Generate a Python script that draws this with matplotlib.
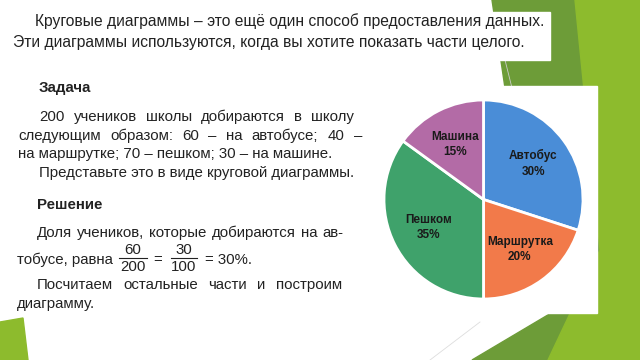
import matplotlib
matplotlib.use("Agg")
import matplotlib.pyplot as plt
from matplotlib.patches import Polygon, Rectangle
import numpy as np

# slide text
title_lines = [
    "Круговые диаграммы – это ещё один способ предоставления данных.",
    "Эти диаграммы используются, когда вы хотите показать части целого.",
]
task_head = "Задача"
task_lines = [
    "200 учеников школы добираются в школу",
    "следующим образом: 60 – на автобусе; 40 –",
    "на маршрутке; 70 – пешком; 30 – на машине.",
    "Представьте это в виде круговой диаграммы.",
]
sol_head = "Решение"
sol_line1 = "Доля учеников, которые добираются на ав-"
sol_line2 = "тобусе, равна"
frac1 = ("60", "200")
frac2 = ("30", "100")
sol_result = "= 30%."
sol_lines_end = ["Посчитаем остальные части и построим", "диаграмму."]

# pie data
categories = ["Автобус", "Маршрутка", "Пешком", "Машина"]
students = [60, 40, 70, 30]
colors = ["#4a8dd7", "#f27a4a", "#3fa26b", "#b36ba6"]

body_font = ["Liberation Sans", "DejaVu Sans"]
txt_color = "#222222"

fig = plt.figure(figsize=(6.4, 3.6), dpi=100)
bg = fig.add_axes([0, 0, 1, 1])
bg.set_xlim(0, 640)
bg.set_ylim(360, 0)
bg.axis("off")

# green decoration of the slide
bg.add_patch(Polygon([(492, 0), (640, 0), (640, 360), (472, 360), (590, 290), (505, 88)],
                     closed=True, color="#6d9c38", zorder=0))
bg.add_patch(Polygon([(575, 0), (640, 0), (640, 360), (548, 360), (600, 250)],
                     closed=True, color="#8dbb2d", zorder=0))
bg.add_patch(Polygon([(0, 322), (23, 318), (28, 360), (0, 360)],
                     closed=True, color="#8dbb2d", zorder=0))
bg.plot([505, 512], [60, 88], color="#cccccc", lw=0.6, zorder=0)
bg.plot([430, 480], [360, 322], color="#dddddd", lw=0.6, zorder=0)
bg.add_patch(Rectangle((0, 12), 550, 48, color="white", zorder=1))
bg.add_patch(Rectangle((378, 86), 219, 227, color="white", zorder=1))

renderer = fig.canvas.get_renderer()


def width_of(s, size, **extra):
    t = bg.text(0, 0, s, family=body_font, fontsize=size, **extra)
    w = t.get_window_extent(renderer).width
    t.remove()
    return w


# narrow font is not available, so fit the sizes to the line widths
fs = 10 * 318 / width_of(task_lines[3], 10)
fs_title = 10 * 513 / width_of(title_lines[0], 10)


def justify(words, x0, x1, y, **kw):
    arts = [bg.text(0, y, w, va="center", ha="left", **kw) for w in words]
    widths = [a.get_window_extent(renderer).width for a in arts]
    gap = (x1 - x0 - sum(widths)) / (len(words) - 1)
    x = x0
    for a, w in zip(arts, widths):
        a.set_x(x)
        x += w + gap


kt = dict(family=body_font, fontsize=fs_title, color=txt_color, zorder=3)
bg.text(35, 21, title_lines[0], va="center", **kt)
bg.text(13, 43, title_lines[1], va="center", **kt)

kw = dict(family=body_font, fontsize=fs, color=txt_color, zorder=3)
bg.text(39, 88, task_head, va="center", fontweight="bold", **kw)
justify(task_lines[0].split(), 39, 354, 117, **kw)
justify(task_lines[1].split(), 18, 362, 136, **kw)
bg.text(18, 154, task_lines[2], va="center", **kw)
bg.text(39, 173, task_lines[3], va="center", **kw)

bg.text(37, 205, sol_head, va="center", fontweight="bold", **kw)
justify(sol_line1.split(), 37, 343, 233, **kw)
bg.text(17, 260, sol_line2, va="center", **kw)
bg.text(133, 250, frac1[0], ha="center", va="center", **kw)
bg.text(133, 267, frac1[1], ha="center", va="center", **kw)
bg.plot([119, 147], [258, 258], color=txt_color, lw=0.8, zorder=3)
bg.text(158, 260, "=", ha="center", va="center", **kw)
bg.text(184, 250, frac2[0], ha="center", va="center", **kw)
bg.text(184, 267, frac2[1], ha="center", va="center", **kw)
bg.plot([171, 197], [258, 258], color=txt_color, lw=0.8, zorder=3)
bg.text(205, 260, sol_result, va="center", **kw)
justify(sol_lines_end[0].split(), 37, 342, 285, **kw)
bg.text(17, 304, sol_lines_end[1], va="center", **kw)

# pie chart
ax = fig.add_axes([383 / 640, (360 - 300) / 360, 201 / 640, 201 / 360])
wedges, _ = ax.pie(students, colors=colors, startangle=90, counterclock=False,
                   wedgeprops=dict(edgecolor="white", linewidth=2))
total = sum(students)
for w, name, v in zip(wedges, categories, students):
    ang = np.deg2rad((w.theta1 + w.theta2) / 2)
    r = 0.62
    ax.text(r * np.cos(ang), r * np.sin(ang), f"{name}\n{v / total * 100:.0f}%",
            ha="center", va="center", fontsize=8.5, fontweight="bold",
            family=["Liberation Sans", "DejaVu Sans"], color="#1a1a1a", linespacing=1.4)
ax.set_aspect("equal")
ax.set_xlim(-1.01, 1.01)
ax.set_ylim(-1.01, 1.01)

fig.savefig("out.png", dpi=100)
